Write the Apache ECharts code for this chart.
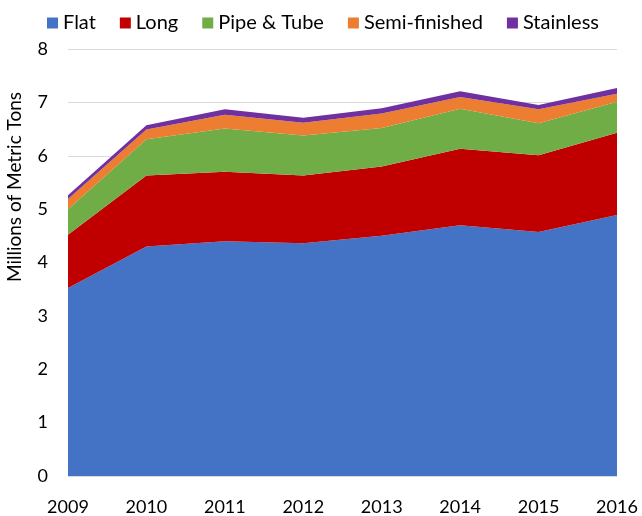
<!DOCTYPE html>
<html>
<head>
<meta charset="utf-8">
<script src="https://cdn.jsdelivr.net/npm/echarts@6/dist/echarts.min.js"></script>
<style>
html,body{margin:0;padding:0;background:#fff;}
#chart{width:642px;height:516px;}
</style>
</head>
<body>
<div id="chart"></div>
<script>
const years = ['2009','2010','2011','2012','2013','2014','2015','2016'];
const flat = [3.52, 4.30, 4.40, 4.36, 4.50, 4.70, 4.57, 4.89];
const long = [1.00, 1.33, 1.30, 1.27, 1.30, 1.43, 1.44, 1.54];
const pipeTube = [0.48, 0.68, 0.81, 0.75, 0.72, 0.75, 0.60, 0.58];
const semiFinished = [0.19, 0.18, 0.26, 0.24, 0.27, 0.22, 0.26, 0.15];
const stainless = [0.07, 0.08, 0.10, 0.09, 0.10, 0.11, 0.08, 0.11];
const yTicks = [0, 1, 2, 3, 4, 5, 6, 7, 8];

const seriesDefs = [
  ['Flat', flat, '#4472C4'],
  ['Long', long, '#C00000'],
  ['Pipe & Tube', pipeTube, '#70AD47'],
  ['Semi-finished', semiFinished, '#ED7D31'],
  ['Stainless', stainless, '#7030A0']
];
const font = 'Lato, "Open Sans", sans-serif';
const chart = echarts.init(document.getElementById('chart'), null, {renderer: 'canvas'});
chart.setOption({
  animation: false,
  backgroundColor: '#fff',
  textStyle: {fontFamily: font},
  legend: {
    left: 42, top: 8,
    icon: 'rect', itemWidth: 11, itemHeight: 11, itemGap: 24,
    textStyle: {fontFamily: font, fontSize: 20, color: '#000'},
    data: seriesDefs.map(s => s[0])
  },
  grid: {left: 68, right: 25, top: 49, bottom: 38, containLabel: false},
  xAxis: {
    type: 'category', data: years, boundaryGap: false,
    axisLine: {show: true, lineStyle: {color: '#d9d9d9', width: 1}},
    axisTick: {show: false},
    axisLabel: {fontFamily: font, fontSize: 18, color: '#000', margin: 22}
  },
  yAxis: {
    type: 'value', min: yTicks[0], max: yTicks[yTicks.length-1], interval: 1,
    axisLine: {show: false}, axisTick: {show: false},
    splitLine: {lineStyle: {color: '#d9d9d9', width: 1}},
    axisLabel: {fontFamily: font, fontSize: 18, color: '#000', margin: 20}
  },
  graphic: [{
    type: 'text', x: 15, y: 187, rotation: Math.PI / 2,
    style: {text: 'Millions of Metric Tons', fontFamily: font, fontSize: 19, fill: '#000',
            align: 'center', verticalAlign: 'middle'}
  }],
  series: seriesDefs.map(([name, data, color]) => ({
    name, type: 'line', stack: 'total', data,
    symbol: 'none', lineStyle: {width: 0}, itemStyle: {color},
    areaStyle: {color, opacity: 1}
  }))
});
</script>
</body>
</html>
